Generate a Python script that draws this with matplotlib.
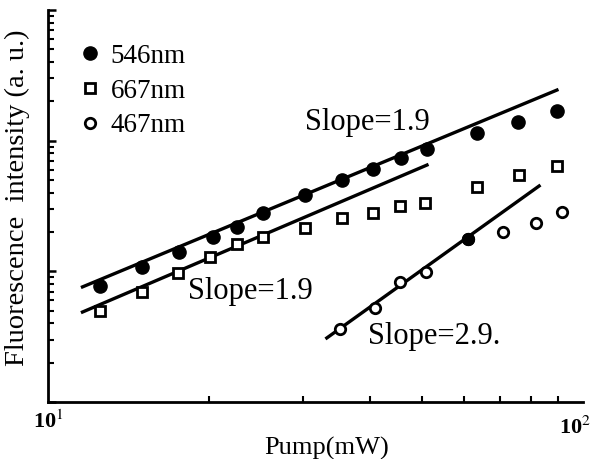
import matplotlib.pyplot as plt
import matplotlib.transforms as mtransforms
from matplotlib.ticker import LogLocator, NullFormatter, FixedLocator

plt.rcParams['font.family'] = 'Liberation Serif'
plt.rcParams['mathtext.fontset'] = 'stix'

# data (pump power in mW, intensity in a.u.)
x_546 = [12.5, 15.0, 17.6, 20.3, 22.6, 25.2, 30.2, 35.4, 40.5, 45.7, 51.1, 63.4, 75.6, 89.4]
y_546 = [7.7, 10.8, 14.0, 18.3, 21.8, 27.9, 38.4, 50.0, 60.6, 73.6, 86.3, 114.3, 138.8, 168.5]

x_667 = [12.5, 15.0, 17.5, 20.1, 22.6, 25.2, 30.2, 35.4, 40.5, 45.5, 50.6, 63.4, 75.8, 89.4]
y_667 = [4.97, 6.95, 9.7, 12.9, 16.2, 18.3, 21.4, 25.6, 27.9, 31.6, 33.3, 44.2, 54.6, 63.9]

x_467 = [35.1, 40.9, 45.5, 50.9, 61.0, 70.9, 81.7, 91.3]
y_467 = [3.62, 5.24, 8.28, 9.88, 17.7, 20.0, 23.4, 28.4]
filled_467 = [False, False, False, False, True, False, False, False]

# fitted lines (end points)
fit_x_546 = [11.6, 89.4]
fit_y_546 = [7.6, 244.0]
fit_x_667 = [11.6, 51.1]
fit_y_667 = [4.88, 65.1]
fit_x_467 = [33.2, 82.8]
fit_y_467 = [3.09, 45.0]

fig = plt.figure(figsize=(5.97, 4.59), dpi=100)
ax = fig.add_axes([0.0804, 0.1242, 0.8961, 0.854])

ax.plot(fit_x_546, fit_y_546, color='black', lw=2.4)
ax.plot(fit_x_667, fit_y_667, color='black', lw=2.4)
ax.plot(fit_x_467, fit_y_467, color='black', lw=2.4)

ax.plot(x_546, y_546, 'o', color='black', ms=9.5, label='546nm')
ax.plot(x_667, y_667, 's', mfc='white', mec='black', mew=2.0, ms=6.5, label='667nm')
ax.plot(x_467, y_467, 'o', mfc='white', mec='black', mew=2.0, ms=7.5, label='467nm')
for xx, yy, f in zip(x_467, y_467, filled_467):
    if f:
        ax.plot(xx, yy, 'o', color='black', ms=8.5)

ax.set_xscale('log')
ax.set_yscale('log')
ax.set_xlim(10, 100)
ax.set_ylim(1, 1000)

for s in ['top', 'right']:
    ax.spines[s].set_visible(False)
for s in ['left', 'bottom']:
    ax.spines[s].set_linewidth(2.0)

ax.xaxis.set_major_locator(FixedLocator([10, 100]))
ax.set_xticklabels(['10$^1$', '10$^2$'], fontsize=16, fontweight='bold')
ax.xaxis.set_minor_locator(LogLocator(base=10, subs=range(2, 10)))
ax.xaxis.set_minor_formatter(NullFormatter())
ax.yaxis.set_major_locator(LogLocator(base=10, numticks=10))
ax.yaxis.set_minor_locator(LogLocator(base=10, subs=range(2, 10), numticks=10))
ax.yaxis.set_major_formatter(NullFormatter())
ax.yaxis.set_minor_formatter(NullFormatter())
ax.tick_params(which='major', direction='in', length=6, width=1.8, pad=6)
ax.tick_params(which='minor', direction='in', length=4, width=1.5)
ax.tick_params(axis='x', which='major', length=0)

# nudge the right-hand tick label inside the figure
lbls = ax.get_xticklabels()
lbls[1].set_transform(lbls[1].get_transform() +
                      mtransforms.ScaledTranslation(-8 / 100, -6 / 100, fig.dpi_scale_trans))

ax.set_xlabel('Pump(mW)', fontsize=19)
ax.xaxis.set_label_coords(0.521, -0.088)
ax.set_ylabel('Fluorescence  intensity (a. u.)', fontsize=20.5)
ax.yaxis.set_label_coords(-0.034, 0.52)

ax.text(0.480, 0.714, 'Slope=1.9', transform=ax.transAxes, fontsize=22, va='center', ha='left')
ax.text(0.262, 0.281, 'Slope=1.9', transform=ax.transAxes, fontsize=22, va='center', ha='left')
ax.text(0.598, 0.166, 'Slope=2.9.', transform=ax.transAxes, fontsize=22, va='center', ha='left')

ax.legend(loc='upper left', bbox_to_anchor=(0.023, 0.962), frameon=False, fontsize=19.5,
          handlelength=0.8, handletextpad=0.35, labelspacing=0.36, borderpad=0.2)

fig.savefig('out.png', dpi=100)
